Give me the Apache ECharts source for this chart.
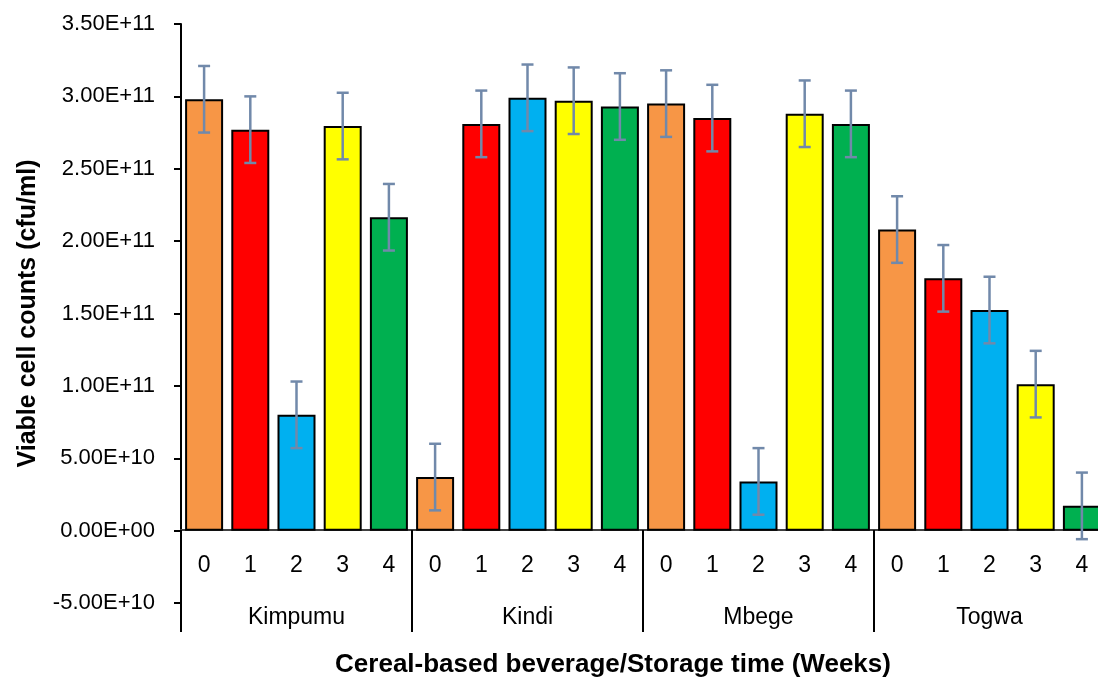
<!DOCTYPE html>
<html>
<head>
<meta charset="utf-8">
<script src="https://cdn.jsdelivr.net/npm/echarts@6/dist/echarts.min.js"></script>
<style>
html,body{margin:0;padding:0;background:#fff;}
#chart{width:1098px;height:681px;}
</style>
</head>
<body>
<div id="chart"></div>
<script>
// ---- data ----
var groups = ['Kimpumu', 'Kindi', 'Mbege', 'Togwa'];
var weeks = ['0', '1', '2', '3', '4'];
var kimpumu = [2.98e11, 2.77e11, 0.80e11, 2.795e11, 2.165e11];
var kindi   = [0.37e11, 2.81e11, 2.99e11, 2.97e11, 2.93e11];
var mbege   = [2.95e11, 2.85e11, 0.34e11, 2.88e11, 2.81e11];
var togwa   = [2.08e11, 1.743e11, 1.524e11, 1.012e11, 0.171e11];
var errKimpumu = [2.3e10, 2.3e10, 2.3e10, 2.3e10, 2.3e10];
var errKindi   = [2.3e10, 2.3e10, 2.3e10, 2.3e10, 2.3e10];
var errMbege   = [2.3e10, 2.3e10, 2.3e10, 2.3e10, 2.3e10];
var errTogwa   = [2.3e10, 2.3e10, 2.3e10, 2.3e10, 2.3e10];
var weekColors = ['#F79646', '#FF0000', '#00B0F0', '#FFFF00', '#00B050'];

var groupValues = [kimpumu, kindi, mbege, togwa];
var groupErrors = [errKimpumu, errKindi, errMbege, errTogwa];

var cats = [], barData = [], errData = [];
groupValues.forEach(function (vals, g) {
  vals.forEach(function (v, w) {
    var idx = cats.length;
    cats.push(weeks[w]);
    barData.push({ value: v, itemStyle: { color: weekColors[w] } });
    errData.push([idx, v - groupErrors[g][w], v + groupErrors[g][w]]);
  });
});

var FONT = '"Liberation Sans", Arial, sans-serif';
var chart = echarts.init(document.getElementById('chart'), null, { renderer: 'canvas' });

function fmt(v) {
  if (v === 0) return '0.00E+00';
  var neg = v < 0; v = Math.abs(v);
  var e = Math.floor(Math.log10(v) + 1e-9);
  var m = v / Math.pow(10, e);
  var es = (e < 10 ? '0' : '') + e;
  return (neg ? '-' : '') + m.toFixed(2) + 'E+' + es;
}

var option = {
  backgroundColor: '#ffffff',
  animation: false,
  grid: { left: 181, right: -7, top: 24, bottom: 78, containLabel: false, outerBoundsMode: 'none' },
  xAxis: [
    {
      type: 'category',
      data: cats,
      position: 'bottom',
      offset: -73,
      axisLine: { onZero: false, lineStyle: { color: '#404040', width: 2 } },
      axisTick: { show: false },
      axisLabel: { margin: 24, fontFamily: FONT, fontSize: 23, color: '#000' },
      splitLine: { show: false }
    },
    {
      type: 'category',
      data: groups,
      position: 'bottom',
      offset: -73,
      axisLine: { show: false, onZero: false },
      axisTick: { show: true, length: 102, lineStyle: { color: '#000', width: 2 } },
      axisLabel: { margin: 76, fontFamily: FONT, fontSize: 23, color: '#000' },
      splitLine: { show: false }
    }
  ],
  yAxis: {
    type: 'value',
    min: -5e10,
    max: 3.5e11,
    interval: 5e10,
    name: 'Viable cell counts (cfu/ml)',
    nameLocation: 'middle',
    nameGap: 140,
    nameTextStyle: { fontFamily: FONT, fontSize: 25, fontWeight: 'bold', color: '#000' },
    axisLine: { show: true, lineStyle: { color: '#000', width: 2 } },
    axisTick: { show: true, length: 7, lineStyle: { color: '#000', width: 2 } },
    axisLabel: { margin: 26, fontFamily: FONT, fontSize: 22, color: '#000', formatter: fmt },
    splitLine: { show: false }
  },
  series: [
    {
      type: 'bar',
      xAxisIndex: 0,
      data: barData,
      barWidth: 38,
      itemStyle: { borderColor: '#000', borderWidth: 2 },
      z: 2
    },
    {
      type: 'custom',
      xAxisIndex: 0,
      data: errData,
      z: 5,
      renderItem: function (params, api) {
        var x = api.value(0);
        var lo = api.coord([x, api.value(1)]);
        var hi = api.coord([x, api.value(2)]);
        var hw = 6;
        var style = { stroke: '#7189AA', lineWidth: 2.5, fill: null };
        return {
          type: 'group',
          children: [
            { type: 'line', shape: { x1: lo[0], y1: lo[1], x2: hi[0], y2: hi[1] }, style: style },
            { type: 'line', shape: { x1: lo[0] - hw, y1: lo[1], x2: lo[0] + hw, y2: lo[1] }, style: style },
            { type: 'line', shape: { x1: hi[0] - hw, y1: hi[1], x2: hi[0] + hw, y2: hi[1] }, style: style }
          ]
        };
      }
    }
  ],
  graphic: [
    {
      type: 'text',
      x: 613, y: 665,
      style: {
        text: 'Cereal-based beverage/Storage time (Weeks)',
        font: 'bold 26px ' + FONT,
        fill: '#000',
        align: 'center',
        verticalAlign: 'middle'
      }
    }
  ]
};
chart.setOption(option);
</script>
</body>
</html>
